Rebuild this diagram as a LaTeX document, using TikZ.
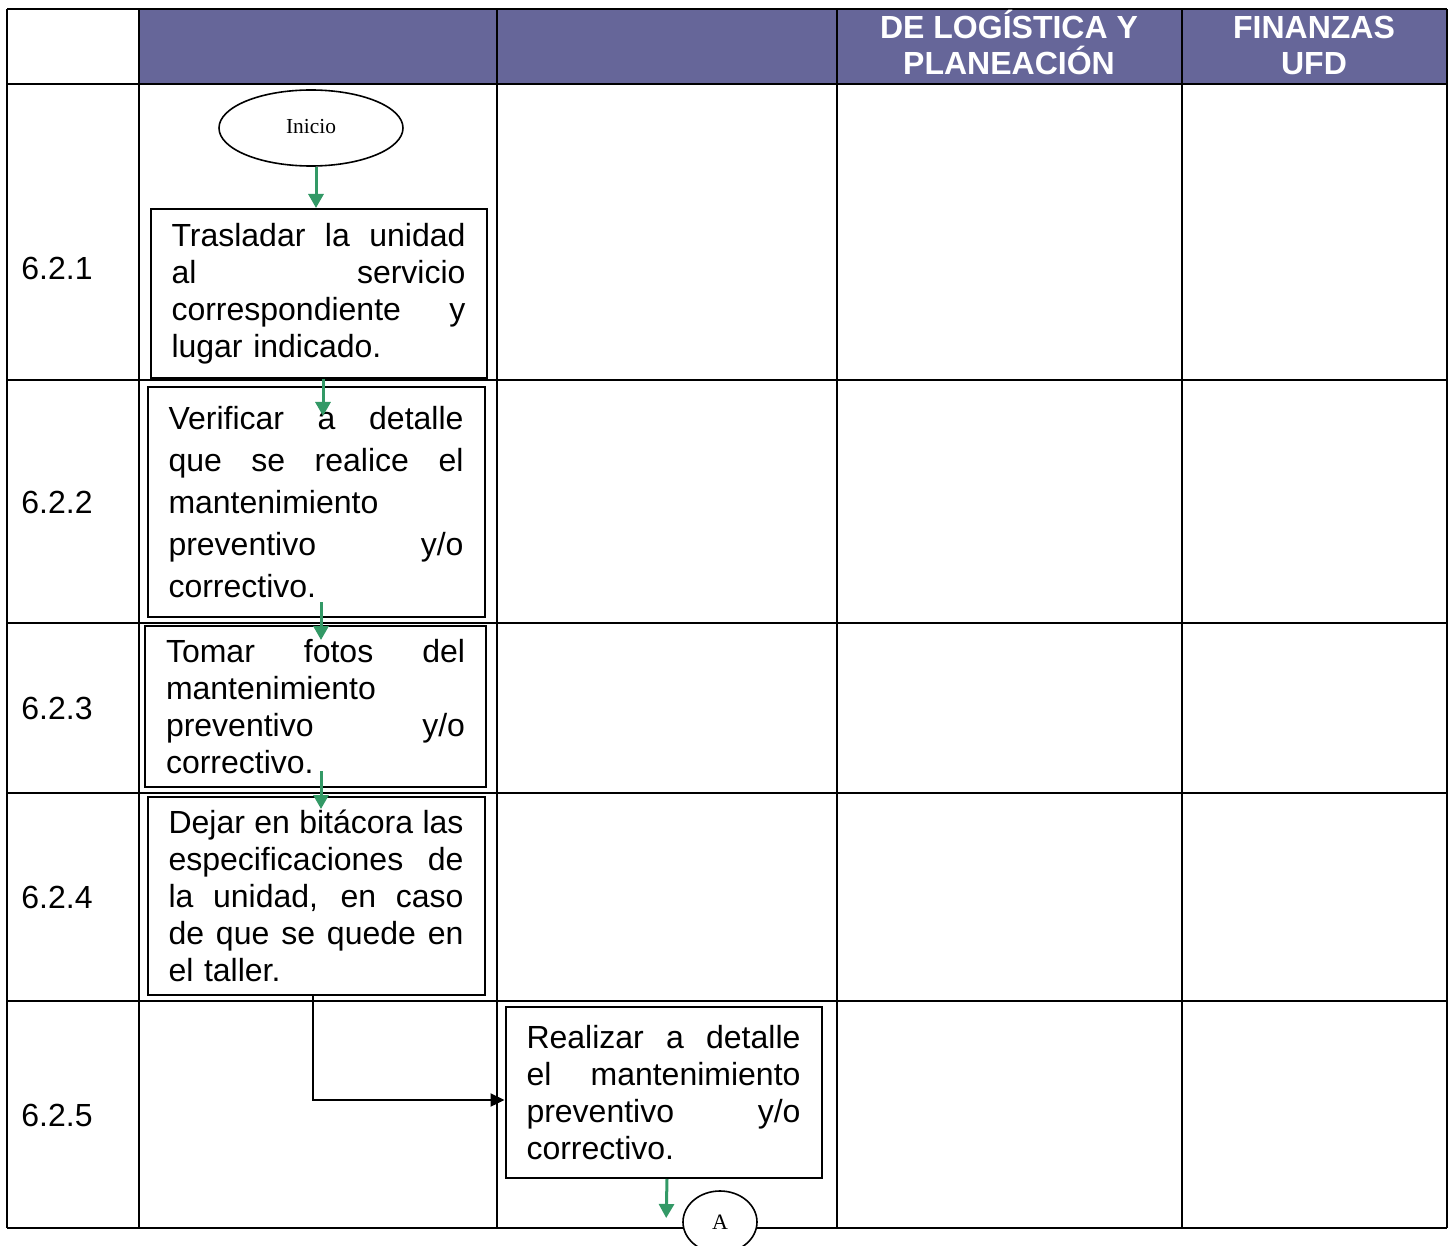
\documentclass[tikz,border=0pt]{standalone}
\usepackage{fontspec}
\setmainfont{Liberation Sans}
\newfontfamily\timesfont{Liberation Serif}
\usetikzlibrary{shapes.geometric,arrows.meta}
\definecolor{headblue}{RGB}{102,102,153}
\definecolor{flowgreen}{RGB}{51,153,102}
\newcommand{\jline}[1]{\makebox[\linewidth][s]{\spaceskip=0pt\xspaceskip=0pt #1}\\}

\begin{document}
\begin{tikzpicture}[x=0.5pt, y=-0.5pt]
        % Define block styles
        \tikzstyle{task} = [rectangle, draw, line width=1pt, fill=white, 
            align=left, inner xsep=10.5pt, inner ysep=0pt, font=\fontsize{16}{18.5}\selectfont]
        \tikzstyle{terminal} = [ellipse, draw, line width=0.8pt, fill=white, 
            inner sep=0pt, font=\timesfont\fontsize{10.7}{12}\selectfont]
        \tikzstyle{head} = [text=white, align=center, font=\bfseries\fontsize{16}{18}\selectfont]
        \tikzstyle{rowlabel} = [anchor=west, inner sep=0pt, font=\fontsize{16}{18}\selectfont]
        \tikzstyle{line} = [draw, flowgreen, line width=1.5pt, -{Triangle[width=7.5pt,length=7pt]}]
        \tikzstyle{jump} = [draw, black, line width=1.2pt, -{Triangle[width=6.5pt,length=7pt]}]

        \useasboundingbox (0,0) rectangle (1452,1246);

        % Table
        \fill [headblue] (139,9) rectangle (1447,84);
        \foreach \y in {9,84,380,623,793,1001,1228}
            \draw [line width=1pt] (7,\y) -- (1447,\y);
        \foreach \x in {7,139,497,837,1182,1447}
            \draw [line width=1pt] (\x,9) -- (\x,1228);

        % Header
        \node [head] (logistica) at (1009,42) {DE LOGÍSTICA Y\\PLANEACIÓN};
        \node [head] (finanzas) at (1314,45) {FINANZAS\\UFD};

        % Row numbers
        \foreach \num/\y in {1/268,2/502,3/708,4/897,5/1115}
            \node [rowlabel] (row\num) at (21,\y) {6.2.\num};

        % Nodes
        \node [terminal, minimum width=92pt, minimum height=38pt] (inicio) at (311,128) {\raisebox{2pt}{Inicio}};
        \node [task, text width=147pt, minimum height=84.5pt] (traslado) at (318.5,293.5)
            {\jline{Trasladar la unidad}\jline{al servicio}\jline{correspondiente y}lugar indicado.};
        \node [task, text width=147.5pt, minimum height=115pt, font=\fontsize{16}{21}\selectfont] (verifica) at (316,502)
            {\jline{Verificar a detalle}\jline{que se realice el}mantenimiento\\\jline{preventivo y/o}correctivo.};
        \node [task, text width=149.5pt, minimum height=80.5pt] (fotos) at (315.5,706.5)
            {\jline{Tomar fotos del}mantenimiento\\\jline{preventivo y/o}correctivo.};
        \node [task, text width=147.5pt, minimum height=99pt] (bitacora) at (316,896)
            {\jline{Dejar en bitácora las}\jline{especificaciones de}\jline{la unidad, en caso}\jline{de que se quede en}el taller.};
        \node [task, text width=137pt, minimum height=85.5pt] (realiza) at (663.5,1092.5)
            {\jline{Realizar a detalle}\jline{el mantenimiento}\jline{preventivo y/o}correctivo.};
        \node [terminal, minimum width=37pt, minimum height=31pt, font=\timesfont\fontsize{11}{12}\selectfont] (conA) at (720,1222) {A};

        % Arrows
        \path [line] ([xshift=2.5pt]inicio.south) -- ([xshift=-1.25pt]traslado.north);
        \path [line] ([xshift=2.25pt]traslado.south) -- ([xshift=3.5pt, yshift=-15pt]verifica.north);
        \path [line] ([xshift=2.5pt, yshift=8pt]verifica.south) -- ([xshift=2.75pt, yshift=-7.5pt]fotos.north);
        \path [line] ([xshift=2.75pt, yshift=8.5pt]fotos.south) -- ([xshift=2.5pt, yshift=-6.5pt]bitacora.north);
        \path [jump] ([xshift=-1.5pt]bitacora.south) |- ([yshift=-3.75pt]realiza.west);
        \path [line] ([xshift=1.75pt]realiza.south) -- ([xshift=-8pt, yshift=2pt]conA.west);
    \end{tikzpicture}
\end{document}
